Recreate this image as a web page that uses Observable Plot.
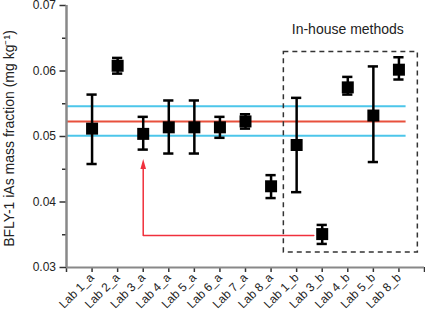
<!DOCTYPE html>
<html>
<head>
<meta charset="utf-8">
<script src="https://cdn.jsdelivr.net/npm/d3@7"></script>
<script src="https://cdn.jsdelivr.net/npm/@observablehq/plot@0.6"></script>
<style>
  html, body { margin: 0; padding: 0; background: #fff; }
</style>
</head>
<body>
<div id="chart"></div>
<script>
// ---- data ----
const labs = ["Lab 1_a", "Lab 2_a", "Lab 3_a", "Lab 4_a", "Lab 5_a", "Lab 6_a", "Lab 7_a", "Lab 8_a",
              "Lab 1_b", "Lab 3_b", "Lab 4_b", "Lab 5_b", "Lab 8_b"];
const means = [0.0512, 0.0608, 0.0504, 0.0514, 0.0514, 0.0514, 0.0523, 0.0424,
               0.0487, 0.0351, 0.0575, 0.0532, 0.0602];
const lowers = [0.0458, 0.0596, 0.0480, 0.0474, 0.0474, 0.0498, 0.0512, 0.0406,
                0.0415, 0.0336, 0.0564, 0.0461, 0.0587];
const uppers = [0.0564, 0.0620, 0.0530, 0.0555, 0.0555, 0.0530, 0.0534, 0.0441,
                0.0559, 0.0365, 0.0591, 0.0607, 0.0621];
const refValue = [0.0523];
const refBand = [0.0501, 0.0546];
const refSpan = [0, 13.28];
const yTicks = [0.03, 0.04, 0.05, 0.06, 0.07];
const yMinor = [0.035, 0.045, 0.055, 0.065];
const xTicks = d3.range(0, 15);
const boxX = [8.5, 13.74];
const boxY = [0.0323, 0.0629];
const boxTitle = "In-house methods";
const boxTitlePos = {x: 11, y: 0.0663};
const arrowFrom = {lab: "Lab 3_b", y: 0.0349};
const arrowTo = {lab: "Lab 3_a", y: 0.0458};
const yTitle = "BFLY-1 iAs mass fraction (mg kg\u207B\u00B9)";

const data = labs.map((lab, i) => ({lab, x: i + 1, mean: means[i], lo: lowers[i], hi: uppers[i]}));
const xOf = lab => labs.indexOf(lab) + 1;
const arrowPath = [
  {x: xOf(arrowFrom.lab) - 0.33, y: arrowFrom.y},
  {x: xOf(arrowTo.lab), y: arrowFrom.y},
  {x: xOf(arrowTo.lab), y: arrowTo.y - 0.0002}
];
const headSymbol = {
  draw(ctx) { ctx.moveTo(0, -5); ctx.lineTo(2.8, 5); ctx.lineTo(-2.8, 5); ctx.closePath(); }
};
const capW = 0.2;

const chart = Plot.plot({
  width: 425,
  height: 310,
  marginLeft: 66,
  marginRight: 1,
  marginTop: 5,
  marginBottom: 43,
  style: {fontFamily: "'Liberation Sans', Arial, Helvetica, sans-serif", fontSize: "12px", color: "#222", background: "#fff"},
  x: {domain: [0, 14], axis: null},
  y: {domain: [0.03, 0.07], axis: null},
  marks: [
    Plot.ruleY(refBand, {x1: refSpan[0], x2: refSpan[1], stroke: "#4cc6ea", strokeWidth: 2}),
    Plot.ruleY(refValue, {x1: refSpan[0], x2: refSpan[1], stroke: "#e8503c", strokeWidth: 2}),
    Plot.rect([{}], {x1: boxX[0], x2: boxX[1], y1: boxY[0], y2: boxY[1], fill: "none",
      stroke: "#333", strokeWidth: 1.5, strokeDasharray: "5,4"}),
    Plot.text([boxTitle], {x: boxTitlePos.x, y: boxTitlePos.y, fontSize: 14, fill: "#222"}),
    Plot.line(arrowPath, {x: "x", y: "y", stroke: "#f0303c", strokeWidth: 1.5}),
    Plot.dot([arrowTo], {x: d => xOf(d.lab), y: "y", symbol: headSymbol, fill: "#f0303c", stroke: "none", r: 3}),
    Plot.ruleX(data, {x: "x", y1: "lo", y2: "hi", stroke: "#000", strokeWidth: 2.5}),
    Plot.ruleY(data, {x1: d => d.x - capW, x2: d => d.x + capW, y: "lo", stroke: "#000", strokeWidth: 2.5}),
    Plot.ruleY(data, {x1: d => d.x - capW, x2: d => d.x + capW, y: "hi", stroke: "#000", strokeWidth: 2.5}),
    Plot.dot(data, {x: "x", y: "mean", symbol: "square", r: 6.77, fill: "#000", stroke: "none"}),
    Plot.axisY({ticks: yMinor, tickSize: 4, tickFormat: () => "", label: null, stroke: "#333", strokeWidth: 1.5}),
    Plot.axisY({ticks: yTicks, tickSize: 6.5, tickPadding: 4, tickFormat: d3.format(".2f"), label: null,
      stroke: "#333", strokeWidth: 1.5, fill: "#222"}),
    Plot.axisX({ticks: xTicks, tickSize: 5, tickPadding: 3, tickRotate: -45,
      tickFormat: i => labs[i - 1] ?? "", label: null, stroke: "#333", strokeWidth: 1.5, fill: "#222"}),
    Plot.ruleX([0], {stroke: "#888", strokeWidth: 2.5}),
    Plot.ruleY([0.03], {stroke: "#888", strokeWidth: 2}),
    Plot.text([yTitle], {frameAnchor: "left", textAnchor: "middle", dx: -57, dy: 2, rotate: -90, fontSize: 14, fill: "#222"})
  ]
});
document.getElementById("chart").appendChild(chart);
</script>
</body>
</html>
